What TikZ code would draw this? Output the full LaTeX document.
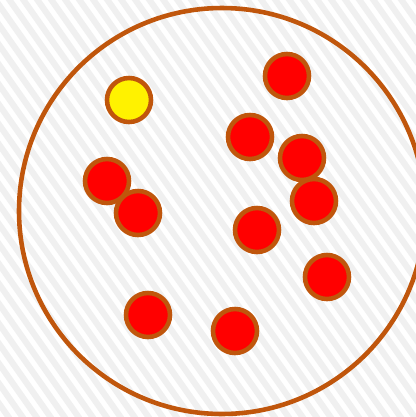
\documentclass[tikz,border=0pt]{standalone}
\usepackage{tikz}
\definecolor{rim}{RGB}{192,86,12}
\definecolor{hatch}{RGB}{240,240,240}
\tikzset{
	stripe/.style = {draw = hatch, line width = 3.5},
	ball/.style = {draw = rim, line width = 2.6},
	redball/.style = {ball, fill = red},
	yellowball/.style = {ball, fill = yellow}
}
\begin{document}
\begin{tikzpicture} [x = 0.02cm, y = -0.02cm]
	\useasboundingbox (0,0) rectangle (416,417);
	\begin{scope}
		\clip (0,0) rectangle (416,417);
		\fill [white] (0,0) rectangle (416,417);
		\foreach \x in {-330,-316,...,430}
			\draw [stripe] (\x,-5) -- ++(300,427);
		\draw [rim, line width = 2.6] (222,211) circle (203);
	\end{scope}
	\draw [yellowball] (129,100) circle (22);
	\draw [redball] (287,76) circle (22);
	\draw [redball] (250,137) circle (22);
	\draw [redball] (302,158) circle (22);
	\draw [redball] (107,181) circle (22);
	\draw [redball] (138,213) circle (22);
	\draw [redball] (314,201) circle (22);
	\draw [redball] (257,230) circle (22);
	\draw [redball] (327,277) circle (22);
	\draw [redball] (148,315) circle (22);
	\draw [redball] (235,331) circle (22);
\end{tikzpicture}
\end{document}
